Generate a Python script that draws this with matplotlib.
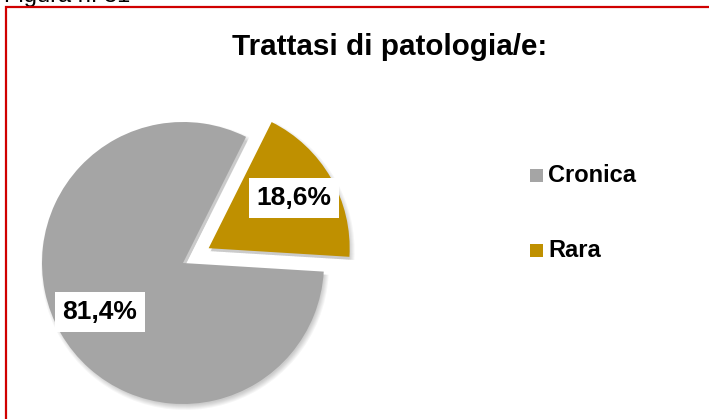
import matplotlib
matplotlib.use("Agg")
import matplotlib.pyplot as plt
from matplotlib.patches import Wedge, Rectangle

categories = ["Cronica", "Rara"]
values = [81.4, 18.6]
labels = ["81,4%", "18,6%"]
colors = ["#A5A5A5", "#BF9000"]
title = "Trattasi di patologia/e:"
caption = "Figura n. 31"

W, H = 709, 419
fig = plt.figure(figsize=(W / 100, H / 100), dpi=100)
ax = fig.add_axes([0, 0, 1, 1])

FONT = "Liberation Sans"

def Y(y):
    return H - y

cx, cy, r = 183, Y(263), 141
wedges, _ = ax.pie(values, colors=colors, startangle=-3.5, counterclock=False,
                   radius=r, center=(cx, cy), explode=[0, 0.21 * r], frame=True,
                   wedgeprops=dict(linewidth=0, zorder=3))
ax.set_xlim(0, W)
ax.set_ylim(0, H)
ax.set_aspect("equal")
ax.axis("off")

# soft shadow
for w in wedges:
    for k in range(6):
        s = Wedge((w.center[0] + 2.0, w.center[1] - 3.0), w.r + 3 - k, w.theta1, w.theta2,
                  facecolor="black", edgecolor="none", alpha=0.035, zorder=2)
        ax.add_patch(s)

# data labels
lab_pos = [(100, Y(312)), (294, Y(198))]
for (x, y), t in zip(lab_pos, labels):
    ax.text(x, y, t, ha="center", va="center", fontsize=19, fontweight="bold",
            family=FONT, color="black", zorder=5,
            bbox=dict(facecolor="white", edgecolor="none", boxstyle="square,pad=0.3"))

# title
ax.text(390, Y(55), title, ha="center", va="baseline", fontsize=21.3,
        fontweight="bold", family=FONT, color="black")

# caption, cut at the top as in the source
ax.text(4, Y(2), caption, ha="left", va="baseline", fontsize=17,
        family=FONT, color="black")

# legend
leg_y = [175.5, 250.5]
for c, name, yy in zip(colors, categories, leg_y):
    ax.add_patch(Rectangle((530, Y(yy) - 6.5), 13, 13, facecolor=c, edgecolor="none"))
    ax.text(548, Y(yy), name, ha="left", va="center", fontsize=17,
            fontweight="bold", family=FONT, color="black")

# red frame (right and bottom beyond image)
ax.add_patch(Rectangle((5.5, -10), W + 20, Y(6.5) + 10, facecolor="none",
                       edgecolor="#D00000", linewidth=1.6, zorder=10, clip_on=False))

fig.savefig("out.png", dpi=100)
